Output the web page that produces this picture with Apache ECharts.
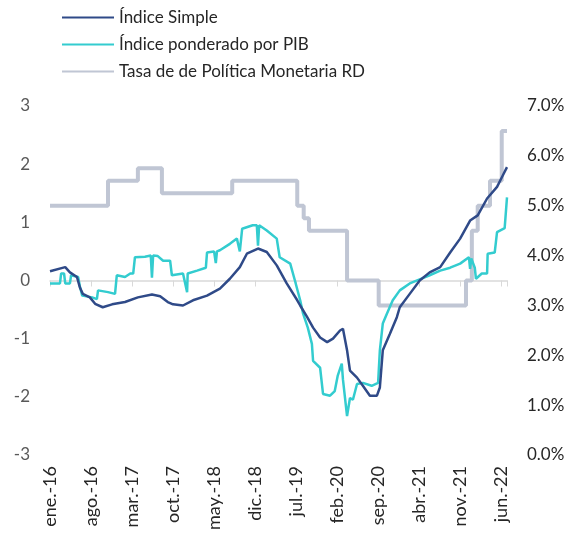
<!DOCTYPE html>
<html>
<head>
<meta charset="utf-8">
<script src="https://cdn.jsdelivr.net/npm/echarts@6/dist/echarts.min.js"></script>
<style>
  html, body { margin: 0; padding: 0; background: #fff; }
  #chart { width: 578px; height: 537px; }
</style>
</head>
<body>
<div id="chart"></div>
<script>
// etiquetas del eje x (cada 7 meses desde ene.-16)
var tickLabels = ['ene.-16', 'ago.-16', 'mar.-17', 'oct.-17', 'may.-18', 'dic.-18',
                  'jul.-19', 'feb.-20', 'sep.-20', 'abr.-21', 'nov.-21', 'jun.-22'];

// Índice Simple: mes (0 = ene.-16) y valor
var simpleMes = [0, 2.6, 3.4, 4.6, 5.1, 5.6, 6.8, 7.7, 9.0, 10.6, 12.8, 15.0, 17.4, 18.8, 20.1, 21.0,
                 22.7, 24.4, 26.8, 29.0, 30.7, 32.4, 33.6, 35.5, 37.0, 38.7, 40.4, 42.2, 42.7, 43.9,
                 44.9, 46.1, 47.3, 48.3, 49.5, 50.0, 50.7, 51.2, 52.4, 53.4, 54.6, 55.8, 56.3, 56.8,
                 58.0, 59.2, 59.7, 61.4, 63.1, 64.8, 66.6, 68.3, 70.0, 71.7, 73.0, 74.6, 76.3, 77.3, 78.0];
var simpleVal = [0.16, 0.23, 0.14, 0.06, -0.12, -0.23, -0.29, -0.40, -0.46, -0.41, -0.37, -0.29, -0.24, -0.27, -0.37, -0.41,
                 -0.43, -0.34, -0.26, -0.14, 0.03, 0.23, 0.46, 0.55, 0.49, 0.26, -0.05, -0.34, -0.43, -0.63,
                 -0.81, -0.98, -1.06, -1.00, -0.86, -0.83, -1.20, -1.55, -1.67, -1.81, -1.98, -1.98, -1.84, -1.20,
                 -0.92, -0.63, -0.46, -0.23, 0.00, 0.14, 0.23, 0.48, 0.72, 1.03, 1.12, 1.41, 1.61, 1.81, 1.95];

// Índice ponderado por PIB
var pibMes = [0, 1.7, 1.9, 2.4, 2.6, 3.4, 3.6, 4.8, 5.1, 5.5, 7.2, 8.0, 8.2, 9.9, 11.1, 11.4, 12.8, 13.7, 14.2,
              14.5, 16.2, 17.2, 17.4, 17.6, 18.4, 19.3, 20.5, 20.8, 22.7, 23.4, 23.5, 25.1, 26.6, 26.8, 28.0,
              28.3, 28.5, 29.0, 30.7, 31.9, 32.4, 32.8, 34.6, 35.3, 35.5, 35.7, 37.0, 38.7, 39.2, 41.0, 41.8,
              42.7, 43.2, 44.0, 44.7, 44.9, 46.1, 46.6, 47.8, 48.6, 49.1, 49.8, 50.0, 50.7, 51.2, 51.7, 52.4,
              53.4, 54.9, 56.0, 56.3, 56.8, 57.5, 58.5, 59.7, 61.4, 63.1, 64.8, 66.6, 68.3, 70.0, 71.5, 71.7,
              71.9, 72.5, 72.7, 73.7, 74.6, 74.7, 75.9, 76.3, 77.6, 78.0];
var pibVal = [-0.05, -0.05, 0.12, 0.12, -0.05, -0.05, 0.09, 0.06, -0.10, -0.26, -0.29, -0.32, -0.17, -0.20, -0.23, 0.09, 0.06, 0.12, 0.12,
              0.40, 0.41, 0.43, 0.05, 0.43, 0.42, 0.34, 0.34, 0.09, 0.12, -0.20, 0.12, 0.17, 0.22, 0.48, 0.50,
              0.30, 0.50, 0.52, 0.63, 0.72, 0.50, 0.89, 0.95, 0.95, 0.60, 0.95, 0.86, 0.72, 0.40, 0.29, 0.00,
              -0.34, -0.57, -0.81, -1.09, -1.38, -1.50, -1.95, -1.98, -1.90, -1.64, -1.43, -1.70, -2.33, -2.02, -2.05, -1.78,
              -1.76, -1.81, -1.76, -1.20, -0.74, -0.57, -0.34, -0.17, -0.05, 0.02, 0.09, 0.17, 0.22, 0.29, 0.40, 0.20,
              0.38, 0.22, 0.03, 0.12, 0.12, 0.46, 0.48, 0.83, 0.90, 1.43];

// Tasa de Política Monetaria RD (%): mes del cambio y nueva tasa
var tpmMes = [0, 9.9, 15.0, 19.1, 31.1, 42.2, 43.3, 44.2, 50.7, 56.1, 71.0, 72.0, 73.0, 75.1, 77.1, 78.0];
var tpmVal = [5.0, 5.5, 5.75, 5.25, 5.5, 5.0, 4.75, 4.5, 3.5, 3.0, 3.5, 4.5, 5.0, 5.5, 6.5, 6.5];

function pares(xs, ys) {
    return xs.map(function (x, i) { return [x, ys[i]]; });
}

var fuente = 'Lato';
var chart = echarts.init(document.getElementById('chart'));

var option = {
    animation: false,
    textStyle: { fontFamily: fuente },
    legend: {
        orient: 'vertical',
        left: 56,
        top: 4,
        itemWidth: 52,
        itemHeight: 14,
        itemGap: 10,
        itemStyle: { opacity: 0 },
        textStyle: { fontSize: 17, color: '#262626', fontFamily: fuente },
        data: ['Índice Simple', 'Índice ponderado por PIB', 'Tasa de de Política Monetaria RD']
    },
    grid: { left: 50, right: 71, top: 106, bottom: 82 },
    xAxis: [{
        type: 'value',
        min: 0, max: 78, interval: 7,
        axisLine: { onZero: true, onZeroAxisIndex: 0, lineStyle: { color: '#d9d9d9', width: 1.5 } },
        axisTick: { show: true, length: 6, lineStyle: { color: '#d9d9d9' } },
        axisLabel: { show: false },
        splitLine: { show: false }
    }, {
        type: 'value',
        position: 'bottom',
        min: 0, max: 78, interval: 7,
        axisLine: { show: false, onZero: false },
        axisTick: { show: false },
        splitLine: { show: false },
        axisLabel: {
            rotate: 90, margin: 11, fontSize: 18, color: '#262626', fontFamily: fuente,
            formatter: function (v) { return tickLabels[Math.round(v / 7)] || ''; }
        }
    }],
    yAxis: [{
        type: 'value',
        min: -3, max: 3, interval: 1,
        axisLine: { show: false },
        axisTick: { show: false },
        splitLine: { show: false },
        axisLabel: { margin: 20, fontSize: 17, color: '#595959', fontFamily: fuente }
    }, {
        type: 'value',
        min: 0, max: 7, interval: 1,
        position: 'right',
        axisLine: { show: false },
        axisTick: { show: false },
        splitLine: { show: false },
        axisLabel: {
            margin: 20, fontSize: 17, color: '#262626', fontFamily: fuente,
            formatter: function (v) { return v.toFixed(1) + '%'; }
        }
    }],
    series: [{
        name: 'Tasa de de Política Monetaria RD',
        type: 'line',
        yAxisIndex: 1,
        step: 'end',
        symbol: 'none',
        z: 1,
        itemStyle: { color: '#c0c6d4' },
        lineStyle: { color: '#c0c6d4', width: 4 },
        data: pares(tpmMes, tpmVal)
    }, {
        name: 'Índice ponderado por PIB',
        type: 'line',
        symbol: 'none',
        z: 2,
        itemStyle: { color: '#33cccf' },
        lineStyle: { color: '#33cccf', width: 2.5 },
        data: pares(pibMes, pibVal)
    }, {
        name: 'Índice Simple',
        type: 'line',
        symbol: 'none',
        z: 3,
        itemStyle: { color: '#2f4a88' },
        lineStyle: { color: '#2f4a88', width: 2.5 },
        data: pares(simpleMes, simpleVal)
    }]
};

chart.setOption(option);
</script>
</body>
</html>
